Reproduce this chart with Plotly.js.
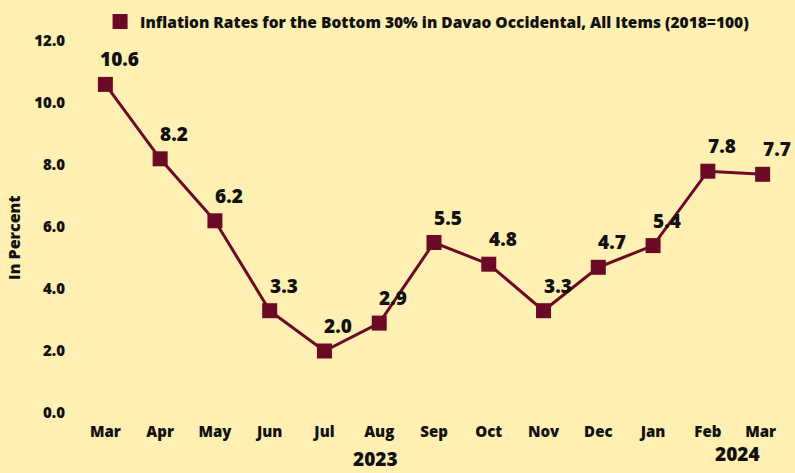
<!DOCTYPE html>
<html><head><meta charset="utf-8">
<script src="https://cdn.plot.ly/plotly-3.0.1.min.js"></script>
<style>body{margin:0;background:#FEEFB2}</style>
</head><body>
<div id="chart" style="width:795px;height:473px"></div>
<script>
const months = ["Mar","Apr","May","Jun","Jul","Aug","Sep","Oct","Nov","Dec","Jan","Feb","Mar "];
const rates = [10.6, 8.2, 6.2, 3.3, 2.0, 2.9, 5.5, 4.8, 3.3, 4.7, 5.4, 7.8, 7.7];
const yTicks = [0, 2, 4, 6, 8, 10, 12];
const yTickLabels = ["0.0","2.0","4.0","6.0","8.0","10.0","12.0"];
const seriesName = "Inflation Rates for the Bottom 30% in Davao Occidental, All Items (2018=100)";
const years = [{label:"2023", at:"Aug"}, {label:"2024", at:"Mar "}];

const col = "#6B0A25";
const tickFont = {family:"'Open Sans', sans-serif", size:15, color:"#111", weight:800};
const condFamily = "'Open Sans', sans-serif";
const labelFont = {family:condFamily, size:19, color:"#111", weight:800, stretch:"condensed"};

const traces = [
  {x: months, y: rates, type:"scatter", mode:"lines+markers", showlegend:false,
   line:{color:col, width:3}, marker:{symbol:"square", size:15, color:col}, hoverinfo:"skip"},
  {x:[null], y:[null], type:"scatter", mode:"markers", name:seriesName,
   marker:{symbol:"square", size:15, color:col}}
];

const annotations = months.map((m,i)=>({
  x:m, y:rates[i], xref:"x", yref:"y", text:rates[i].toFixed(1), showarrow:false,
  xshift:14, yshift:25, font:labelFont
}));
annotations.push({x:-0.09, y:0.5, xref:"paper", yref:"paper", xanchor:"center", yanchor:"middle",
  text:"In Percent", textangle:-90, showarrow:false, yshift:-10,
  font:{family:"'Open Sans', sans-serif", size:16, color:"#111", weight:800}});
annotations.push({x:years[0].at, y:0, xref:"x", yref:"y", text:years[0].label, showarrow:false,
  yshift:-46, xshift:-4, font:{family:condFamily, size:19, color:"#111", weight:800, stretch:"condensed"}});
annotations.push({x:years[1].at, y:0, xref:"x", yref:"y", text:years[1].label, showarrow:false,
  yshift:-41, xshift:-25, font:{family:condFamily, size:19, color:"#111", weight:800, stretch:"condensed"}});

const layout = {
  width:795, height:473,
  paper_bgcolor:"#FEEFB2", plot_bgcolor:"#FEEFB2",
  margin:{l:78, r:5, t:41, b:60},
  xaxis:{type:"category", range:[-0.5,12.5], showgrid:false, zeroline:false, showline:false,
    ticks:"", tickfont:tickFont, ticklabelstandoff:8, fixedrange:true},
  yaxis:{range:[0,12], tickvals:yTicks, ticktext:yTickLabels, showgrid:false, zeroline:false,
    showline:false, ticks:"", tickfont:tickFont, ticklabelstandoff:12, fixedrange:true},
  legend:{orientation:"h", x:0.031, y:1.097, xanchor:"left", yanchor:"top",
    bgcolor:"rgba(0,0,0,0)", font:{family:"'Open Sans', sans-serif", size:15.5, color:"#111", weight:800}},
  annotations: annotations
};
Plotly.newPlot("chart", traces, layout, {displayModeBar:false, staticPlot:true});
</script>
</body></html>
